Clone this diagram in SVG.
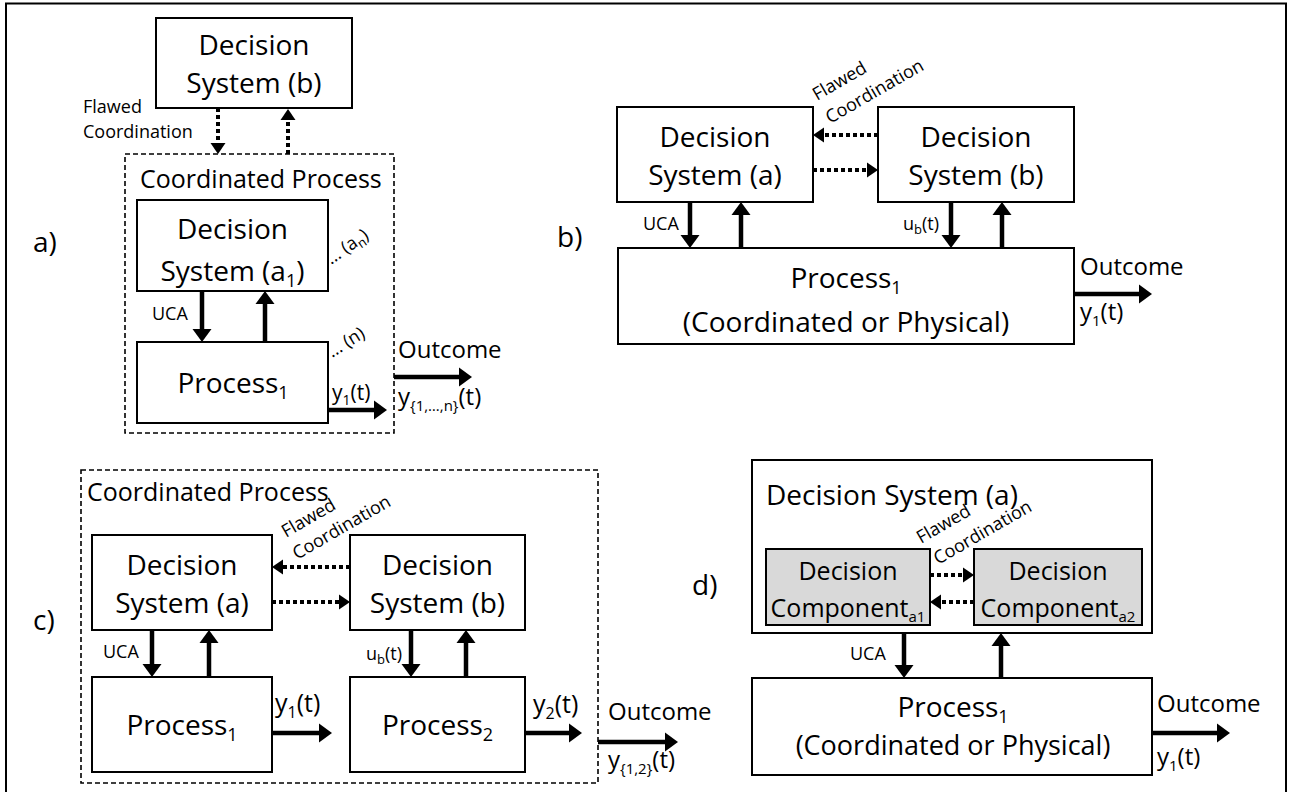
<svg xmlns="http://www.w3.org/2000/svg" width="1290" height="792" viewBox="0 0 1290 792">
<style>
text{font-family:"Open Sans","Noto Sans",sans-serif;fill:#000}
.b{font-size:28px}
.m{font-size:24px}
.s{font-size:18px}
.c{text-anchor:middle}
.box{fill:#fff;stroke:#000;stroke-width:2}
.comp{fill:#d9d9d9;stroke:#000;stroke-width:2}
.dash{fill:none;stroke:#000;stroke-width:1.6;stroke-dasharray:5 3}
.arr{fill:none;stroke:#000;stroke-width:4.5;marker-end:url(#ah)}
.dot{fill:none;stroke:#000;stroke-width:4;stroke-dasharray:4 3;marker-end:url(#ahd)}
</style>
<defs>
<marker id="ah" markerUnits="userSpaceOnUse" viewBox="0 -10 13 20" refX="0" refY="0" markerWidth="13" markerHeight="20" orient="auto"><path d="M0,-9.5 L13,0 L0,9.5 z" fill="#000"/></marker>
<marker id="ahd" markerUnits="userSpaceOnUse" viewBox="0 -8 11 16" refX="0" refY="0" markerWidth="11" markerHeight="16" orient="auto"><path d="M0,-7.5 L11,0 L0,7.5 z" fill="#000"/></marker>
</defs>
<rect width="1290" height="792" fill="#fff"/>
<path d="M6,800 V3.5 H1286 V800" fill="none" stroke="#000" stroke-width="2"/>

<!-- Panel a -->
<g id="panel-a">
<text class="b" x="33" y="252">a)</text>
<g id="a-ds-b"><rect class="box" x="156" y="18" width="196" height="90"/>
<text class="b c" x="254" y="55">Decision</text><text class="b c" x="254" y="93">System (b)</text></g>
<text class="s" x="83" y="113">Flawed</text><text class="s" x="83" y="138">Coordination</text>
<g id="a-coord"><rect class="dash" x="125" y="154" width="269" height="279"/>
<text x="140" y="188" style="font-size:25px">Coordinated Process</text></g>
<g id="a-ds-a1"><rect class="box" x="137" y="200" width="191" height="91"/>
<text class="b c" x="232.5" y="239">Decision</text><text class="b c" x="232.5" y="281">System (a<tspan style="font-size:18px" dy="6">1</tspan><tspan dy="-6">)</tspan></text></g>
<text class="s" transform="translate(331,265) rotate(-35)">… (a<tspan style="font-size:13px" dy="4">n</tspan><tspan dy="-4">)</tspan></text>
<text class="s" x="152" y="320">UCA</text>
<g id="a-proc1"><rect class="box" x="137" y="342" width="191" height="81"/>
<text class="b c" x="233" y="393">Process<tspan style="font-size:18px" dy="6">1</tspan></text></g>
<text class="s" transform="translate(332,358) rotate(-32)">… (n)</text>
<text x="332" y="400" style="font-size:21px">y<tspan style="font-size:14px" dy="5">1</tspan><tspan dy="-5">(t)</tspan></text>
<text class="m" x="398" y="358">Outcome</text>
<text class="m" x="398" y="405">y<tspan style="font-size:15px" dy="6">{1,…,n}</tspan><tspan dy="-6">(t)</tspan></text>
</g>

<!-- Panel b -->
<g id="panel-b">
<text class="b" x="557" y="247">b)</text>
<g id="b-ds-a"><rect class="box" x="617" y="107" width="196" height="95"/>
<text class="b c" x="715" y="147">Decision</text><text class="b c" x="715" y="185">System (a)</text></g>
<g id="b-ds-b"><rect class="box" x="878" y="107" width="196" height="95"/>
<text class="b c" x="976" y="147">Decision</text><text class="b c" x="976" y="185">System (b)</text></g>
<text class="s" transform="translate(817,101) rotate(-30)">Flawed</text>
<text class="s" transform="translate(830,124) rotate(-30)">Coordination</text>
<text class="s" x="643" y="230">UCA</text>
<text class="s" x="903" y="230">u<tspan style="font-size:13px" dy="4">b</tspan><tspan dy="-4">(t)</tspan></text>
<g id="b-proc1"><rect class="box" x="618" y="248" width="456" height="96"/>
<text class="b c" x="846" y="288">Process<tspan style="font-size:18px" dy="6">1</tspan></text>
<text class="b c" x="846" y="332">(Coordinated or Physical)</text></g>
<text class="m" x="1080" y="275">Outcome</text>
<text class="m" x="1080" y="320">y<tspan style="font-size:15px" dy="6">1</tspan><tspan dy="-6">(t)</tspan></text>
</g>

<!-- Panel c -->
<g id="panel-c">
<text class="b" x="33" y="630">c)</text>
<g id="c-coord"><rect class="dash" x="81" y="470" width="517" height="313"/>
<text x="87" y="501" style="font-size:25px">Coordinated Process</text></g>
<text class="s" transform="translate(286,538) rotate(-30)">Flawed</text>
<text class="s" transform="translate(297,560) rotate(-30)">Coordination</text>
<g id="c-ds-a"><rect class="box" x="92" y="535" width="180" height="95"/>
<text class="b c" x="182" y="575">Decision</text><text class="b c" x="182" y="613">System (a)</text></g>
<g id="c-ds-b"><rect class="box" x="350" y="535" width="175" height="95"/>
<text class="b c" x="437.5" y="575">Decision</text><text class="b c" x="437.5" y="613">System (b)</text></g>
<text class="s" x="103" y="658">UCA</text>
<text class="s" x="366" y="660">u<tspan style="font-size:13px" dy="4">b</tspan><tspan dy="-4">(t)</tspan></text>
<g id="c-proc1"><rect class="box" x="92" y="677" width="180" height="95"/>
<text class="b c" x="182" y="735">Process<tspan style="font-size:18px" dy="6">1</tspan></text></g>
<g id="c-proc2"><rect class="box" x="350" y="677" width="175" height="95"/>
<text class="b c" x="437.5" y="735">Process<tspan style="font-size:18px" dy="6">2</tspan></text></g>
<text x="275" y="712" style="font-size:25px">y<tspan style="font-size:16px" dy="6">1</tspan><tspan dy="-6">(t)</tspan></text>
<text x="533" y="713" style="font-size:25px">y<tspan style="font-size:16px" dy="6">2</tspan><tspan dy="-6">(t)</tspan></text>
<text class="m" x="608" y="720">Outcome</text>
<text class="m" x="608" y="768">y<tspan style="font-size:15px" dy="6">{1,2}</tspan><tspan dy="-6">(t)</tspan></text>
</g>

<!-- Panel d -->
<g id="panel-d">
<text class="b" x="692" y="595">d)</text>
<g id="d-ds-a"><rect class="box" x="752" y="460" width="400" height="173"/>
<text x="766" y="505" style="font-size:28px">Decision System (a)</text></g>
<text class="s" transform="translate(921,544) rotate(-30)">Flawed</text>
<text class="s" transform="translate(938,565) rotate(-30)">Coordination</text>
<g id="d-comp-a1"><rect class="comp" x="766" y="549" width="164" height="76"/>
<text class="c" x="848" y="580" style="font-size:25px">Decision</text>
<text class="c" x="848" y="617" style="font-size:25px">Component<tspan style="font-size:15px" dy="5">a1</tspan></text></g>
<g id="d-comp-a2"><rect class="comp" x="974" y="549" width="168" height="76"/>
<text class="c" x="1058" y="580" style="font-size:25px">Decision</text>
<text class="c" x="1058" y="617" style="font-size:25px">Component<tspan style="font-size:15px" dy="5">a2</tspan></text></g>
<text class="s" x="850" y="660">UCA</text>
<g id="d-proc1"><rect class="box" x="752" y="678" width="400" height="97"/>
<text class="b c" x="953" y="717">Process<tspan style="font-size:18px" dy="6">1</tspan></text>
<text class="c" x="953" y="755" style="font-size:27px">(Coordinated or Physical)</text></g>
<text class="m" x="1157" y="712">Outcome</text>
<text class="m" x="1157" y="765">y<tspan style="font-size:15px" dy="6">1</tspan><tspan dy="-6">(t)</tspan></text>
</g>

<g id="connectors">
<!-- a -->
<line class="dot" x1="218" y1="108" x2="218" y2="143"/>
<line class="dot" x1="288" y1="154" x2="288" y2="120"/>
<line class="arr" x1="202" y1="291" x2="202" y2="329"/>
<line class="arr" x1="265" y1="342" x2="265" y2="304"/>
<line class="arr" x1="328" y1="410" x2="374" y2="410"/>
<line class="arr" x1="394" y1="377" x2="459" y2="377"/>
<!-- b -->
<line class="dot" x1="878" y1="135" x2="824" y2="135"/>
<line class="dot" x1="813" y1="170" x2="867" y2="170"/>
<line class="arr" x1="690" y1="202" x2="690" y2="235"/>
<line class="arr" x1="741" y1="248" x2="741" y2="215"/>
<line class="arr" x1="951" y1="202" x2="951" y2="235"/>
<line class="arr" x1="1002" y1="248" x2="1002" y2="215"/>
<line class="arr" x1="1074" y1="294" x2="1139" y2="294"/>
<!-- c -->
<line class="dot" x1="350" y1="567" x2="283" y2="567"/>
<line class="dot" x1="272" y1="602" x2="339" y2="602"/>
<line class="arr" x1="152" y1="630" x2="152" y2="664"/>
<line class="arr" x1="209" y1="677" x2="209" y2="643"/>
<line class="arr" x1="411" y1="630" x2="411" y2="664"/>
<line class="arr" x1="466" y1="677" x2="466" y2="643"/>
<line class="arr" x1="272" y1="733" x2="319" y2="733"/>
<line class="arr" x1="525" y1="733" x2="569" y2="733"/>
<line class="arr" x1="598" y1="742" x2="665" y2="742"/>
<!-- d -->
<line class="dot" x1="930" y1="575" x2="963" y2="575"/>
<line class="dot" x1="974" y1="602" x2="941" y2="602"/>
<line class="arr" x1="904" y1="633" x2="904" y2="665"/>
<line class="arr" x1="1001" y1="678" x2="1001" y2="646"/>
<line class="arr" x1="1152" y1="733" x2="1217" y2="733"/>
</g>
</svg>
